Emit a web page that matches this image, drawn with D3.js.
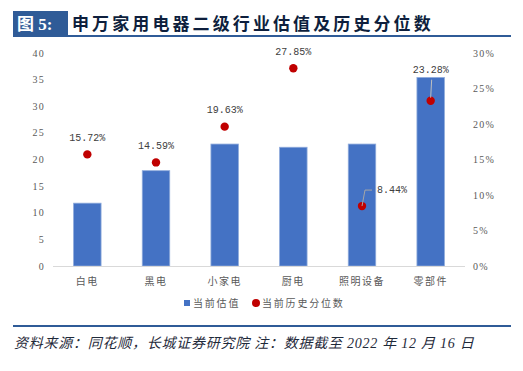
<!DOCTYPE html>
<html lang="zh">
<head>
<meta charset="UTF-8">
<title>申万家用电器二级行业估值及历史分位数</title>
<script src="https://d3js.org/d3.v7.min.js"></script>
<style>
  body { margin: 0; background: #fff; }
  svg { display: block; }
  .tick-label { font-family: "Liberation Serif", serif; font-size: 10px; fill: #595959; letter-spacing: 1.2px; }
  .cat-label { font-family: "Noto Sans CJK SC", sans-serif; font-size: 10px; fill: #595959; letter-spacing: 1.5px; }
  .data-label { font-family: "Liberation Mono", monospace; font-size: 10px; fill: #404040; }
  .legend-text { font-family: "Noto Sans CJK SC", sans-serif; font-size: 10px; fill: #595959; letter-spacing: 1.8px; }
</style>
</head>
<body>
<svg id="chart" width="523" height="371"></svg>
<script>
const categories = ["白电", "黑电", "小家电", "厨电", "照明设备", "零部件"];
const valuation = [11.8, 17.9, 22.9, 22.3, 22.9, 35.4];
const percentile = [15.72, 14.59, 19.63, 27.85, 8.44, 23.28];
const leftTicks = [0, 5, 10, 15, 20, 25, 30, 35, 40];
const rightTicks = [0, 5, 10, 15, 20, 25, 30];

const svg = d3.select("#chart");
const blue = "#2f5b97";

// 标题
svg.append("rect").attr("x", 13).attr("y", 11).attr("width", 55).attr("height", 25).attr("fill", blue);
svg.append("text").attr("x", 17).attr("y", 30)
  .attr("fill", "#fff").style("font-family", "'Liberation Serif', 'Noto Sans CJK SC', serif")
  .style("font-weight", "bold").style("font-size", "17px")
  .text("图 5:");
svg.append("text").attr("x", 72).attr("y", 30)
  .attr("fill", "#0e1f3d").style("font-family", "'Noto Sans CJK SC', sans-serif")
  .style("font-weight", "bold").style("font-size", "17px").style("letter-spacing", "3.1px")
  .text("申万家用电器二级行业估值及历史分位数");
svg.append("rect").attr("x", 13).attr("y", 35).attr("width", 498).attr("height", 2).attr("fill", blue);

// 绘图区
const x0 = 53, x1 = 465, yTop = 53, yBottom = 266;
const x = d3.scaleBand().domain(categories).range([x0, x1]).paddingInner(0.6).paddingOuter(0.3);
const yL = d3.scaleLinear().domain([0, 40]).range([yBottom, yTop]);
const yR = d3.scaleLinear().domain([0, 30]).range([yBottom, yTop]);

const g = svg.append("g");

g.selectAll(".lt").data(leftTicks).join("text")
  .attr("class", "tick-label")
  .attr("x", 45).attr("y", d => yL(d)).attr("dy", "0.35em")
  .attr("text-anchor", "end").text(d => d);

g.selectAll(".rt").data(rightTicks).join("text")
  .attr("class", "tick-label")
  .attr("x", 473).attr("y", d => yR(d)).attr("dy", "0.35em")
  .text(d => d + "%");

// 柱
g.selectAll(".bar").data(valuation).join("rect")
  .attr("x", (d, i) => x(categories[i]))
  .attr("y", d => yL(d))
  .attr("width", x.bandwidth())
  .attr("height", d => yL(0) - yL(d))
  .attr("fill", "#4472c4")
  .attr("stroke", "#8eaadb").attr("stroke-width", 0.8);

// x 轴
g.append("line").attr("x1", x0).attr("x2", x1).attr("y1", yBottom + 0.5).attr("y2", yBottom + 0.5)
  .attr("stroke", "#d9d9d9").attr("stroke-width", 1);

g.selectAll(".cat").data(categories).join("text")
  .attr("class", "cat-label")
  .attr("x", d => x(d) + x.bandwidth() / 2).attr("y", 281).attr("dy", "0.35em")
  .attr("text-anchor", "middle").text(d => d);

// 分位数点
const cx = i => x(categories[i]) + x.bandwidth() / 2;
g.selectAll(".dot").data(percentile).join("circle")
  .attr("cx", (d, i) => cx(i)).attr("cy", d => yR(d))
  .attr("r", 4.2).attr("fill", "#c00000");

// 标签位置（多数在点上方，两个带引线）
const labelPos = (d, i) => {
  if (categories[i] === "照明设备") return { x: cx(i) + 15, y: yR(d) - 17, anchor: "start" };
  if (categories[i] === "零部件") return { x: cx(i), y: yR(d) - 31, anchor: "middle" };
  return { x: cx(i), y: yR(d) - 17, anchor: "middle" };
};

// 引线
percentile.forEach((d, i) => {
  if (categories[i] === "照明设备") {
    const px = cx(i), py = yR(d);
    g.append("path")
      .attr("d", `M${px},${py} L${px + 3},${py - 16} L${px + 10},${py - 16}`)
      .attr("fill", "none").attr("stroke", "#a6a6a6").attr("stroke-width", 1);
  }
  if (categories[i] === "零部件") {
    const px = cx(i), py = yR(d);
    g.append("line").attr("x1", px).attr("y1", py - 3).attr("x2", px + 1).attr("y2", py - 21)
      .attr("stroke", "#bfbfbf").attr("stroke-width", 1);
  }
});

g.selectAll(".dl").data(percentile).join("text")
  .attr("class", "data-label")
  .attr("x", (d, i) => labelPos(d, i).x)
  .attr("y", (d, i) => labelPos(d, i).y).attr("dy", "0.35em")
  .attr("text-anchor", (d, i) => labelPos(d, i).anchor)
  .text(d => d.toFixed(2) + "%");

// 图例
const lg = svg.append("g");
lg.append("rect").attr("x", 184).attr("y", 300).attr("width", 6).attr("height", 6).attr("fill", "#4472c4");
lg.append("text").attr("class", "legend-text").attr("x", 193).attr("y", 303).attr("dy", "0.35em").text("当前估值");
lg.append("circle").attr("cx", 256).attr("cy", 303).attr("r", 4).attr("fill", "#c00000");
lg.append("text").attr("class", "legend-text").attr("x", 262).attr("y", 303).attr("dy", "0.35em").text("当前历史分位数");

// 底部
svg.append("rect").attr("x", 13).attr("y", 325).attr("width", 498).attr("height", 2).attr("fill", blue);
svg.append("text").attr("x", 14).attr("y", 348)
  .attr("fill", "#1f2a3a")
  .style("font-family", "'Liberation Serif', 'Noto Sans CJK SC', serif")
  .style("font-style", "italic").style("font-size", "14px").style("letter-spacing", "0.75px")
  .text("资料来源：同花顺，长城证券研究院 注：数据截至 2022 年 12 月 16 日");
</script>
</body>
</html>
